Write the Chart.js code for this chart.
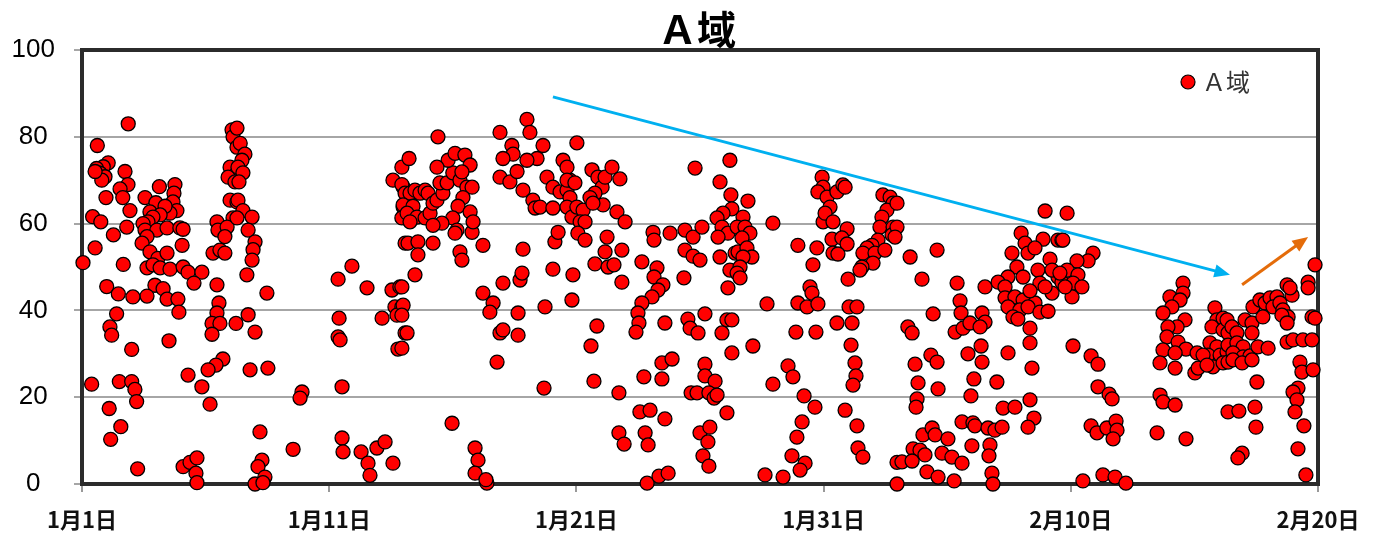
<!DOCTYPE html>
<html>
<head>
<meta charset="utf-8">
<script src="https://cdn.jsdelivr.net/npm/chart.js@4.4.1/dist/chart.umd.min.js"></script>
<style>
  body { margin: 0; background: #fff; }
  canvas { display: block; }
</style>
</head>
<body>
<canvas id="chart" width="1385" height="545"></canvas>
<script>
// 日付軸: 1月1日 = 0 日目
const tickDays = [0, 10, 20, 30, 40, 50]
const dateLabels = ['1月1日', '1月11日', '1月21日', '1月31日', '2月10日', '2月20日']
const seriesName = 'Ａ域'

// [日目, 値]
const jan1to10 = [
  [0.04,51],[0.39,23],[0.43,61.6],[1.06,74],[0.86,73.1],[0.59,72.7],[0.73,71.6],[0.93,70.8],[0.8,70],[0.53,72],
  [0.62,78],[0.97,66],[1.87,83],[1.74,72],[1.86,69],[1.54,68],[1.65,66],[1.94,63],[0.76,60.4],[1.27,57.4],
  [1.81,59.2],[0.53,54.4],[1.67,50.6],[1.0,45.5],[1.47,43.8],[1.4,39.2],[1.13,36.2],[1.2,34.3],[2.01,31],[1.51,23.6],
  [2.01,23.6],[2.14,21.8],[2.21,19],[1.1,17.4],[1.57,13.2],[1.16,10.3],[2.25,3.5],
  [2.55,66],[2.99,64.8],[2.75,62.7],[3.13,68.5],[3.76,69],[3.72,67],[3.68,65],[3.84,63],[3.56,62.4],[3.36,64],
  [3.16,62],[2.87,61.5],[2.67,60.4],[2.47,60],[2.55,58.5],[3.03,58.5],[3.44,59],[3.96,59],[4.09,58.7],[2.63,57],
  [4.05,55],[2.43,55.5],[2.75,53.5],[3.07,52],[3.44,53.2],[2.63,49.8],[2.87,50.5],[3.16,49.8],[3.56,49.5],[4.09,50],
  [4.29,48.8],[4.85,48.8],[4.53,46.3],[2.95,45.8],[3.28,45],[3.44,42.6],[3.88,42.6],[3.92,39.6],[2.63,43.3],[2.06,43.1],
  [3.52,33],
  [5.46,45.9],[5.54,41.7],[5.46,39.4],[5.26,37],[5.58,37],[5.26,34.5],[6.23,37],[5.7,28.8],[5.42,27.4],[5.1,26.3],
  [4.85,22.4],[5.18,18.4],[4.29,25.1],[4.09,4],[4.37,5],[4.65,6],[4.61,2.5],[4.65,0.3],
  [6.07,81.6],[6.11,80],[6.27,77.6],[5.99,73],[6.27,71.7],[5.91,70.7],[6.19,69.6],[5.99,65.4],[6.27,65],[6.11,61.3],
  [5.46,60.4],[5.5,58.5],[5.87,59.2],[5.78,57],[5.3,53.2],[5.58,53.9],[5.78,53.2],
  [6.27,82],[6.4,78.5],[6.59,76],[6.47,74.6],[6.31,73],[6.51,71.7],[6.35,69.6],[6.31,65.4],[6.51,63],[6.88,61.5],
  [6.27,61.3],[6.72,58.5],[7.0,55.8],[6.92,54],[6.88,51.6],[6.67,48.2],[7.48,44],[6.72,39],[7.0,35],[6.8,26.3],
  [7.52,26.7],[8.9,21.2],[8.82,19.8],[7.2,12],[7.28,5.5],[7.12,4],[7.4,1.6],[7.0,0],[7.32,0.3],[8.54,8]
]

const jan11to20 = [
  [10.92,50.2],[10.36,47.2],[11.53,45.2],[10.4,38.2],[10.36,33.9],[10.44,33.2],[10.52,22.4],[12.14,38.2],[12.54,44.7],[12.86,45.4],
  [12.66,40.8],[12.94,40.8],[12.74,38.9],[13.07,34.8],[12.78,31.1],[10.52,10.6],[10.56,7.4],[11.29,7.4],[11.57,4.8],[11.65,2],
  [11.93,8.3],[12.26,9.7],[12.58,4.8],[12.94,73],[12.58,70],[12.99,68.4],[12.99,63.8],[12.94,61.3],[13.07,55.5],
  [13.23,75],[12.94,69],[13.07,67],[13.27,67],[13.47,67.7],[13.67,67],[13.88,67.7],[14.0,67],[12.99,64.3],[13.39,64],
  [13.15,62.4],[13.55,61.5],[13.88,61.3],[14.08,62.4],[14.2,64.7],[14.36,65.4],[14.6,67],[14.48,69.4],[14.77,69.4],[15.0,71.7],
  [15.29,70],[15.57,68.4],[15.78,68.4],[15.41,66],[15.21,64],[15.7,62.7],[15.0,61.3],[14.56,60.1],[14.81,74.6],[15.09,76.2],
  [15.49,75.8],[15.7,73.5],[15.37,71.9],[14.36,73],[13.27,60.4],[14.2,59.6],[14.4,80],[13.19,55.5],[13.59,55.8],[14.2,55.5],
  [13.59,52.8],[13.47,48.2],[12.94,45.4],[12.99,41.2],[12.94,38.9],[13.15,34.8],[12.94,31.3],[15.17,58.5],[15.09,57.8],[15.78,58],
  [15.29,53.5],[15.37,51.6],[16.22,55],[15.82,60.4],[14.97,14],[15.9,8.3],[16.02,5.5],[15.9,2.5],[16.38,0.2],[16.34,1],
  [16.22,44],[16.63,41.7],[16.5,39.6],[17.03,46.3],[16.91,34.8],[17.03,35.5],[16.79,28.1],[17.64,34.3],[17.64,39.4],[17.72,47],
  [17.8,48.6],[17.84,54.1],[18.73,40.8],[18.69,22.1],[19.05,49.5],[19.13,55.8],[19.26,58],
  [18.0,84],[18.12,81],[16.91,81],[17.39,78],[17.44,76],[17.03,75],[16.91,70.7],[17.31,69.6],[17.6,72],[17.84,67.7],
  [18.24,65.4],[18.33,63.6],[18.53,63.8],[19.05,63.6],[18.65,78],[18.41,75],[18.0,74.6],[18.81,70.7],[19.05,68.4],[19.34,67.3],
  [19.62,67.7],[19.74,70],[19.46,74.6],[19.62,73],[19.62,70],[19.94,69.4],[19.74,66],[19.62,63.8],[19.82,61.5],[19.86,48.2],
  [19.82,42.4]
]

const jan21to30 = [
  [20.02,78.6],[20.02,63.8],[20.27,63.1],[20.15,60.4],[20.35,60.4],[20.63,72.4],[20.87,70.7],[21.04,68.4],[21.16,70.7],[21.44,73],
  [21.76,70.3],[20.75,67],[20.55,66],[21.08,64.3],[20.67,64.7],[21.64,62.7],[21.97,60.4],[20.06,57.8],[20.35,56.2],[21.24,56.9],
  [21.16,53.5],[20.75,50.7],[21.28,50],[21.52,50.5],[21.84,53.9],[21.84,46.5],[20.83,36.4],[20.59,31.8],[20.71,23.7],[21.72,21],
  [22.65,51.2],[23.1,58],[23.14,56.2],[23.79,57.8],[23.26,49.8],[23.14,47.7],[23.5,45.9],[23.3,44.7],[23.06,43.1],[22.65,41.7],
  [22.49,39.4],[22.53,37.1],[22.41,35],[23.58,37.1],[24.51,38],[24.6,35.9],[24.92,34.8],[25.2,39.2],[26.09,37.8],[25.89,34.8],
  [23.46,27.9],[23.87,28.8],[23.46,24.2],[22.73,24.7],[25.2,27.6],[25.2,24.9],[25.61,23.7],[24.64,21],[24.88,21],[25.36,21],
  [25.57,19.8],[25.69,20.5],[26.09,16.4],[22.57,16.6],[22.98,17],[23.58,15],[21.72,11.8],[21.93,9.2],[22.78,11.8],[22.9,9],
  [25.0,11.8],[25.4,13.1],[25.32,9.7],[25.12,6.5],[25.36,4.1],[22.86,0.2],[23.34,1.8],[23.71,2.5],
  [24.8,72.8],[24.39,58.5],[24.72,56.9],[25.08,59.2],[24.39,53.9],[24.72,52.5],[25.0,51.6],[24.35,47.5],[26.21,74.6],[25.81,69.6],
  [26.25,66.6],[26.29,63.4],[25.93,62.4],[25.69,61.3],[25.89,59.2],[26.13,57.8],[25.73,56.9],[25.81,52.3],[26.42,53.2],[26.21,49.3],
  [26.13,45.2],[26.29,30.2],
  [26.94,65.2],[26.74,61.5],[26.5,59.2],[26.82,59.2],[27.02,57.8],[26.7,56.7],[26.54,53.5],[26.9,54.4],[27.1,52.3],[26.74,52.3],
  [26.62,50],[26.5,48.6],[26.62,47.5],[27.95,60.1],[27.71,41.5],[26.29,37.8],[27.14,31.8],[28.96,55],[29.73,54.4],[29.57,50.5],
  [29.45,45.4],[29.53,44],[28.96,41.7],[29.33,40.8],[29.77,41.5],[28.88,35],[29.69,35],[28.56,27.2],[28.76,24.7],[27.95,23],
  [29.21,20.3],[29.65,17.7],[29.13,14.3],[28.92,10.8],[28.72,6.5],[29.25,4.8],[29.05,3.2],[27.63,2.1],[28.36,1.6],[29.94,70.7],
  [29.98,68.4],[29.77,67.3],[29.98,60.4]
]

const jan31toFeb9 = [
  [30.14,66.1],[30.26,63.8],[30.06,62.4],[30.54,67.3],[30.78,68.9],[30.87,68.4],[30.38,60.4],[30.95,58.8],[30.34,56.4],[30.74,56.7],
  [30.95,55.3],[30.38,53.2],[30.58,53],[30.99,47.2],[30.54,37.1],[31.15,37.1],[31.03,40.8],[31.35,40.8],[31.11,32],[31.27,27.9],
  [31.31,24.9],[31.19,22.8],[30.87,17],[31.35,13.4],[31.39,8.3],[31.59,6.2],
  [32.4,66.6],[32.69,66.1],[32.81,64.7],[32.56,63.1],[32.36,61.5],[32.28,59.2],[32.81,59.2],[32.77,57.4],[32.2,56.2],[31.96,55],
  [31.76,54.4],[31.59,53.2],[32.08,53.2],[32.48,53.9],[32.0,50.9],[31.55,50],[31.47,49.3],[32.97,5],[32.97,0],[32.97,64.7],
  [32.97,59.2],[32.89,56.9],
  [33.5,52.3],[34.59,53.9],[33.98,47.2],[35.4,46.3],[34.43,39.2],[35.52,42.2],[35.56,39.4],[35.32,35],[35.64,35.9],[35.92,37.1],
  [36.41,39.4],[36.53,37.3],[36.33,36.2],[36.53,45.4],[33.41,36.2],[33.58,34.8],[33.7,27.6],[34.34,29.7],[34.59,28.1],[33.82,23.3],
  [34.63,21.9],[33.78,19.6],[33.74,17.7],[35.84,30],[36.37,31.8],[36.41,28.1],[36.08,24.2],[35.96,20.3],[37.01,23.5],[37.46,30.2],
  [34.02,11.3],[34.39,12.9],[34.51,11.3],[35.03,10.4],[33.62,8.1],[33.9,7.8],[34.1,6.7],[33.17,5.1],[33.58,5.3],[34.79,7.1],
  [35.19,6.2],[35.6,4.8],[34.18,2.8],[34.63,1.6],[35.28,0.7],[35.6,14.3],[36.04,14.1],[36.12,13.4],[36.65,12.9],[36.93,12.4],
  [37.22,13.1],[37.26,17.5],[37.74,17.7],[36.0,8.8],[36.73,9],[36.69,6.5],[36.81,2.5],[36.85,0],[38.35,35.9],[38.35,32.5],
  [38.43,26.7],[38.35,19.4],[38.51,15.2],[38.27,13.1],[38.96,62.9],[39.85,62.4],
  [37.99,57.8],[38.15,55.5],[38.88,56.4],[39.48,56.2],[39.64,56.2],[38.27,53.2],[37.62,53.2],[38.55,54.4],[39.16,51.8],[37.82,50],
  [37.46,47.7],[38.07,47.7],[38.67,49.3],[37.06,46.5],[37.34,45.4],[38.75,46.3],[39.24,44],[39.48,47.7],[39.64,46.5],[37.34,42.9],
  [37.74,43.1],[38.07,42.4],[38.55,41.7],[37.46,40.8],[37.94,40.1],[38.27,40.8],[38.75,39.6],[39.08,39.8],[37.66,38.5],[37.86,38],
  [39.24,49.3],[38.96,45.4],[38.35,44.5],[39.68,56.2]
]

const feb10to20 = [
  [40.9,53.2],[40.7,51.4],[40.25,51.4],[39.85,49.3],[39.56,48.6],[40.29,48.2],[40.09,46.3],[40.45,45.4],[40.05,43.1],[39.77,45.4],
  [40.09,31.8],[40.82,29.5],[41.1,27.6],[41.1,22.4],[41.55,20.7],[41.67,19.6],[40.82,13.4],[41.06,11.8],[41.46,12.9],[41.83,14.5],
  [41.87,12.4],[41.71,10.4],[40.49,0.7],[41.3,2.1],[41.79,1.6],[42.23,0.2],
  [44.54,46.3],[44.54,44],[44.01,43.1],[44.42,42.4],[44.09,40.8],[43.73,39.4],[44.62,37.8],[44.3,36.2],[43.93,36.2],[43.89,33.9],
  [43.73,30.9],[44.34,32.7],[44.66,31.1],[44.22,30.2],[43.61,27.9],[44.22,26.7],[45.02,25.6],[45.15,26.7],[45.11,30.2],[43.61,20.5],
  [43.73,18.9],[44.22,18.2],[43.49,11.8],[44.66,10.4],
  [45.83,40.6],[45.91,37.8],[46.16,38.2],[45.71,36.2],[46.16,35.5],[46.36,34.8],[45.63,32.5],[45.91,31.6],[45.55,29.7],[46.04,29.7],
  [46.32,30.4],[45.75,27],[46.16,27.9],[46.36,28.1],[45.35,29.7],[45.51,27.4],[46.36,16.6],
  [46.32,37.8],[46.52,36.2],[46.72,34.8],[46.36,32],[46.72,32.5],[46.97,31.6],[46.56,30.2],[46.97,29.3],[47.25,29.5],[46.56,28.6],
  [46.93,27.9],[47.33,28.6],[47.05,37.8],[47.33,37.1],[47.37,40.8],[47.65,42.4],[47.86,41.7],[48.06,42.9],[48.34,43.1],[48.18,40.8],
  [48.46,41.7],[48.58,40.1],[48.75,45.9],[48.95,43.5],[48.79,38.5],[48.54,38.9],[47.77,38.5],[47.33,34.8],[47.57,31.6],[47.98,31.3],
  [48.75,37.1],[48.87,45.2],[47.53,23.5],[47.45,17.7],[47.49,13.1],[46.8,16.8],[46.93,7.1],[46.76,6],[49.88,50.5],[49.6,46.5],
  [49.6,45.2],[49.76,38.5],[49.88,38.2],[48.75,32.7],[48.99,33.2],[49.39,33.2],[49.76,33.2],[49.27,28.1],[49.35,25.8],[49.8,26.3],
  [49.19,22.1],[48.99,21.2],[49.15,19.4],[49.07,16.6],[49.43,13.4],[49.19,8.1],[49.51,2.1]
]

// 矢印 [開始日, 開始値, 終了日, 終了値]
const downArrow = [19.05, 89.2, 46.44, 48.2]
const upArrow = [46.93, 45.9, 49.6, 56.9]

const points = [...jan1to10, ...jan11to20, ...jan21to30, ...jan31toFeb9, ...feb10to20]
  .map(([d, v]) => ({ x: d, y: v }))

const framePlugin = {
  id: 'frame',
  beforeDatasetsDraw(chart) {
    const { ctx, chartArea: a } = chart
    ctx.save()
    ctx.strokeStyle = '#2b2b2b'
    ctx.lineWidth = 4
    ctx.strokeRect(a.left, a.top, a.right - a.left, a.bottom - a.top)
    ctx.restore()
  }
}

function drawArrow(ctx, x1, y1, x2, y2, color) {
  const ang = Math.atan2(y2 - y1, x2 - x1)
  const head = 17
  ctx.save()
  ctx.strokeStyle = color
  ctx.fillStyle = color
  ctx.lineWidth = 3
  ctx.beginPath()
  ctx.moveTo(x1, y1)
  ctx.lineTo(x2 - Math.cos(ang) * head * 0.8, y2 - Math.sin(ang) * head * 0.8)
  ctx.stroke()
  ctx.beginPath()
  ctx.moveTo(x2, y2)
  ctx.lineTo(x2 - head * Math.cos(ang - 0.4), y2 - head * Math.sin(ang - 0.4))
  ctx.lineTo(x2 - head * Math.cos(ang + 0.4), y2 - head * Math.sin(ang + 0.4))
  ctx.closePath()
  ctx.fill()
  ctx.restore()
}

const decoPlugin = {
  id: 'deco',
  afterDatasetsDraw(chart) {
    const { ctx, chartArea: a, scales: { x, y } } = chart
    const arrow = (arr, color) => drawArrow(ctx,
      x.getPixelForValue(arr[0]), y.getPixelForValue(arr[1]),
      x.getPixelForValue(arr[2]), y.getPixelForValue(arr[3]), color)
    arrow(downArrow, '#00b0f0')
    arrow(upArrow, '#e46c0a')

    // タイトル
    ctx.save()
    ctx.fillStyle = '#000'
    ctx.font = 'bold 39px "Noto Sans CJK JP"'
    ctx.textAlign = 'center'
    ctx.textBaseline = 'middle'
    ctx.fillText(seriesName, (a.left + a.right) / 2 - 3, 29)

    // 凡例
    const lx = a.right - 130
    const ly = a.top + 32
    ctx.beginPath()
    ctx.arc(lx, ly, 7, 0, Math.PI * 2)
    ctx.fillStyle = '#ff0000'
    ctx.fill()
    ctx.lineWidth = 1.2
    ctx.strokeStyle = '#000'
    ctx.stroke()
    ctx.fillStyle = '#333'
    ctx.font = '24px "Noto Sans CJK JP"'
    ctx.textAlign = 'left'
    ctx.fillText(seriesName, lx + 14, ly)
    ctx.restore()
  }
}

new Chart(document.getElementById('chart'), {
  type: 'scatter',
  data: {
    datasets: [{
      label: seriesName,
      data: points,
      backgroundColor: '#ff0000',
      borderColor: '#000',
      borderWidth: 1.3,
      pointRadius: 7,
      clip: false
    }]
  },
  options: {
    responsive: false,
    animation: false,
    devicePixelRatio: 1,
    layout: { padding: { top: 50, right: 67, left: 0, bottom: 0 } },
    plugins: {
      legend: { display: false },
      title: { display: false },
      tooltip: { enabled: false }
    },
    scales: {
      x: {
        type: 'linear',
        min: 0,
        max: 50,
        afterFit: s => { s.height = 61 },
        afterBuildTicks: s => { s.ticks = tickDays.map(v => ({ value: v })) },
        ticks: {
          callback: v => dateLabels[tickDays.indexOf(v)],
          font: { family: '"Noto Sans CJK JP"', size: 22, weight: 'bold' },
          color: '#111',
          padding: 14,
          maxRotation: 0,
          autoSkip: false
        },
        grid: { drawOnChartArea: false, tickLength: 8, color: '#999', lineWidth: 2 },
        border: { display: false }
      },
      y: {
        min: 0,
        max: 100,
        afterFit: s => { s.width = 82 },
        ticks: {
          stepSize: 20,
          font: { family: '"Liberation Sans"', size: 26 },
          color: '#000',
          padding: 19,
          crossAlign: 'center'
        },
        grid: { color: '#a6a6a6', lineWidth: 2, tickLength: 8 },
        border: { display: false }
      }
    }
  },
  plugins: [framePlugin, decoPlugin]
})
</script>
</body>
</html>
